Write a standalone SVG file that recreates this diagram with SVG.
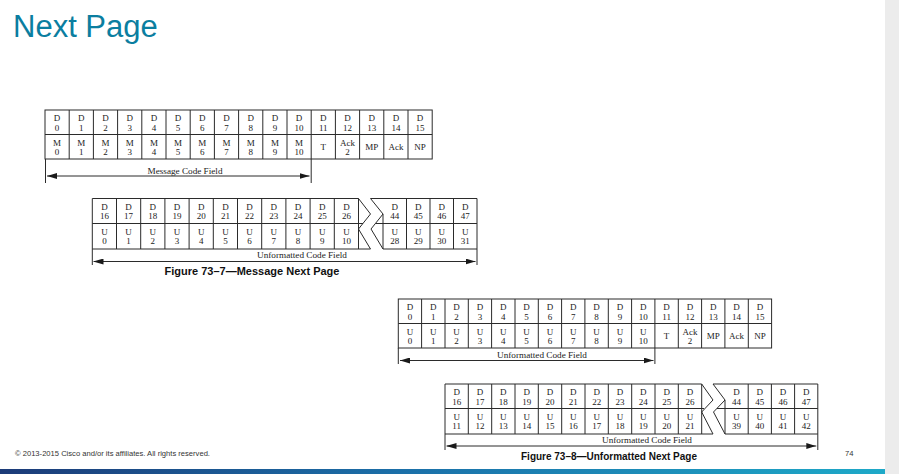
<svg xmlns="http://www.w3.org/2000/svg" width="899" height="474" viewBox="0 0 899 474">
<style>
.cell{font-family:"Liberation Serif","Times New Roman",serif;font-size:9px;fill:#222;text-anchor:middle}
.lbl{font-family:"Liberation Serif","Times New Roman",serif;font-size:9.2px;fill:#222;text-anchor:middle}
.ln{stroke:#2b2b2b;stroke-width:1;fill:none}
.cap{font-family:"Liberation Sans",Arial,sans-serif;font-weight:bold;font-size:11px;fill:#111;text-anchor:middle}
.dim{stroke:#2b2b2b;stroke-width:1;fill:none}
.arr{stroke:#2b2b2b;stroke-width:1;fill:none;marker-start:url(#ah);marker-end:url(#ah)}
.foot{font-family:"Liberation Sans",Arial,sans-serif;font-size:7.6px;fill:#333}
</style>
<defs>
<marker id="ah" viewBox="0 0 10 6" refX="10" refY="3" markerWidth="10" markerHeight="6" markerUnits="userSpaceOnUse" orient="auto-start-reverse">
<path d="M0,0 L10,3 L0,6 z" fill="#1a1a1a"/>
</marker>
<linearGradient id="band" x1="0" y1="0" x2="1" y2="0">
<stop offset="0" stop-color="#1c3b78"/>
<stop offset="0.45" stop-color="#1b6fa8"/>
<stop offset="1" stop-color="#1ea9c8"/>
</linearGradient>
</defs>
<rect width="899" height="474" fill="#ffffff"/>
<rect x="885" y="0" width="14" height="474" fill="#ececec"/>
<rect x="0" y="469" width="885" height="5" fill="url(#band)"/>

<text x="13" y="37" font-family="Liberation Sans, Arial, sans-serif" font-size="31" fill="#0b7ea0">Next Page</text>

<g id="table1">
<rect class="ln" x="45" y="110" width="387.2" height="49"/>
<path class="ln" d="M45 134.5H432.2 M69.2 110V159 M93.4 110V159 M117.6 110V159 M141.8 110V159 M166 110V159 M190.2 110V159 M214.4 110V159 M238.6 110V159 M262.8 110V159 M287 110V159 M311.2 110V159 M335.4 110V159 M359.6 110V159 M383.8 110V159 M408 110V159"/>
<text class="cell" x="57.1" y="121">D<tspan x="57.1" dy="9.5">0</tspan></text>
<text class="cell" x="81.3" y="121">D<tspan x="81.3" dy="9.5">1</tspan></text>
<text class="cell" x="105.5" y="121">D<tspan x="105.5" dy="9.5">2</tspan></text>
<text class="cell" x="129.7" y="121">D<tspan x="129.7" dy="9.5">3</tspan></text>
<text class="cell" x="153.9" y="121">D<tspan x="153.9" dy="9.5">4</tspan></text>
<text class="cell" x="178.1" y="121">D<tspan x="178.1" dy="9.5">5</tspan></text>
<text class="cell" x="202.3" y="121">D<tspan x="202.3" dy="9.5">6</tspan></text>
<text class="cell" x="226.5" y="121">D<tspan x="226.5" dy="9.5">7</tspan></text>
<text class="cell" x="250.7" y="121">D<tspan x="250.7" dy="9.5">8</tspan></text>
<text class="cell" x="274.9" y="121">D<tspan x="274.9" dy="9.5">9</tspan></text>
<text class="cell" x="299.1" y="121">D<tspan x="299.1" dy="9.5">10</tspan></text>
<text class="cell" x="323.3" y="121">D<tspan x="323.3" dy="9.5">11</tspan></text>
<text class="cell" x="347.5" y="121">D<tspan x="347.5" dy="9.5">12</tspan></text>
<text class="cell" x="371.7" y="121">D<tspan x="371.7" dy="9.5">13</tspan></text>
<text class="cell" x="395.9" y="121">D<tspan x="395.9" dy="9.5">14</tspan></text>
<text class="cell" x="420.1" y="121">D<tspan x="420.1" dy="9.5">15</tspan></text>
<text class="cell" x="57.1" y="145.5">M<tspan x="57.1" dy="9.5">0</tspan></text>
<text class="cell" x="81.3" y="145.5">M<tspan x="81.3" dy="9.5">1</tspan></text>
<text class="cell" x="105.5" y="145.5">M<tspan x="105.5" dy="9.5">2</tspan></text>
<text class="cell" x="129.7" y="145.5">M<tspan x="129.7" dy="9.5">3</tspan></text>
<text class="cell" x="153.9" y="145.5">M<tspan x="153.9" dy="9.5">4</tspan></text>
<text class="cell" x="178.1" y="145.5">M<tspan x="178.1" dy="9.5">5</tspan></text>
<text class="cell" x="202.3" y="145.5">M<tspan x="202.3" dy="9.5">6</tspan></text>
<text class="cell" x="226.5" y="145.5">M<tspan x="226.5" dy="9.5">7</tspan></text>
<text class="cell" x="250.7" y="145.5">M<tspan x="250.7" dy="9.5">8</tspan></text>
<text class="cell" x="274.9" y="145.5">M<tspan x="274.9" dy="9.5">9</tspan></text>
<text class="cell" x="299.1" y="145.5">M<tspan x="299.1" dy="9.5">10</tspan></text>
<text class="cell" x="323.3" y="149.5">T</text>
<text class="cell" x="347.5" y="145.5">Ack<tspan x="347.5" dy="9.5">2</tspan></text>
<text class="cell" x="371.7" y="149.5">MP</text>
<text class="cell" x="395.9" y="149.5">Ack</text>
<text class="cell" x="420.1" y="149.5">NP</text>
</g>

<g id="table2">
<path class="ln" d="M358.5 198.5H92.3V249H370.5 M92.3 223.5H363 M116.5 198.5V249 M140.7 198.5V249 M164.9 198.5V249 M189.1 198.5V249 M213.3 198.5V249 M237.5 198.5V249 M261.7 198.5V249 M285.9 198.5V249 M310.1 198.5V249 M334.3 198.5V249 M358.5 198.5V249"/>
<path class="ln" d="M358.5 198.5L370.5 214L358.5 229L370.5 249"/>
<path class="ln" d="M370.5 198.5L383 214L371 229L383 249"/>
<path class="ln" d="M370.5 198.5H477V249H383 M376 223.5H477 M383 214V249 M406.5 198.5V249 M430 198.5V249 M453.5 198.5V249"/>
<text class="cell" x="104.4" y="209.5">D<tspan x="104.4" dy="9.5">16</tspan></text>
<text class="cell" x="128.6" y="209.5">D<tspan x="128.6" dy="9.5">17</tspan></text>
<text class="cell" x="152.8" y="209.5">D<tspan x="152.8" dy="9.5">18</tspan></text>
<text class="cell" x="177" y="209.5">D<tspan x="177" dy="9.5">19</tspan></text>
<text class="cell" x="201.2" y="209.5">D<tspan x="201.2" dy="9.5">20</tspan></text>
<text class="cell" x="225.4" y="209.5">D<tspan x="225.4" dy="9.5">21</tspan></text>
<text class="cell" x="249.6" y="209.5">D<tspan x="249.6" dy="9.5">22</tspan></text>
<text class="cell" x="273.8" y="209.5">D<tspan x="273.8" dy="9.5">23</tspan></text>
<text class="cell" x="298" y="209.5">D<tspan x="298" dy="9.5">24</tspan></text>
<text class="cell" x="322.2" y="209.5">D<tspan x="322.2" dy="9.5">25</tspan></text>
<text class="cell" x="346.4" y="209.5">D<tspan x="346.4" dy="9.5">26</tspan></text>
<text class="cell" x="394.75" y="209.5">D<tspan x="394.75" dy="9.5">44</tspan></text>
<text class="cell" x="418.25" y="209.5">D<tspan x="418.25" dy="9.5">45</tspan></text>
<text class="cell" x="441.75" y="209.5">D<tspan x="441.75" dy="9.5">46</tspan></text>
<text class="cell" x="465.25" y="209.5">D<tspan x="465.25" dy="9.5">47</tspan></text>
<text class="cell" x="104.4" y="234.5">U<tspan x="104.4" dy="9.5">0</tspan></text>
<text class="cell" x="128.6" y="234.5">U<tspan x="128.6" dy="9.5">1</tspan></text>
<text class="cell" x="152.8" y="234.5">U<tspan x="152.8" dy="9.5">2</tspan></text>
<text class="cell" x="177" y="234.5">U<tspan x="177" dy="9.5">3</tspan></text>
<text class="cell" x="201.2" y="234.5">U<tspan x="201.2" dy="9.5">4</tspan></text>
<text class="cell" x="225.4" y="234.5">U<tspan x="225.4" dy="9.5">5</tspan></text>
<text class="cell" x="249.6" y="234.5">U<tspan x="249.6" dy="9.5">6</tspan></text>
<text class="cell" x="273.8" y="234.5">U<tspan x="273.8" dy="9.5">7</tspan></text>
<text class="cell" x="298" y="234.5">U<tspan x="298" dy="9.5">8</tspan></text>
<text class="cell" x="322.2" y="234.5">U<tspan x="322.2" dy="9.5">9</tspan></text>
<text class="cell" x="346.4" y="234.5">U<tspan x="346.4" dy="9.5">10</tspan></text>
<text class="cell" x="394.75" y="234.5">U<tspan x="394.75" dy="9.5">28</tspan></text>
<text class="cell" x="418.25" y="234.5">U<tspan x="418.25" dy="9.5">29</tspan></text>
<text class="cell" x="441.75" y="234.5">U<tspan x="441.75" dy="9.5">30</tspan></text>
<text class="cell" x="465.25" y="234.5">U<tspan x="465.25" dy="9.5">31</tspan></text>
</g>

<g id="table3">
<rect class="ln" x="398.3" y="299" width="373.3" height="49"/>
<path class="ln" d="M398.3 323.5H771.6 M421.6 299V348 M445 299V348 M468.3 299V348 M491.6 299V348 M515 299V348 M538.3 299V348 M561.6 299V348 M584.9 299V348 M608.3 299V348 M631.6 299V348 M654.9 299V348 M678.3 299V348 M701.6 299V348 M724.9 299V348 M748.3 299V348"/>
<text class="cell" x="410" y="310">D<tspan x="410" dy="9.5">0</tspan></text>
<text class="cell" x="433.3" y="310">D<tspan x="433.3" dy="9.5">1</tspan></text>
<text class="cell" x="456.6" y="310">D<tspan x="456.6" dy="9.5">2</tspan></text>
<text class="cell" x="480" y="310">D<tspan x="480" dy="9.5">3</tspan></text>
<text class="cell" x="503.3" y="310">D<tspan x="503.3" dy="9.5">4</tspan></text>
<text class="cell" x="526.6" y="310">D<tspan x="526.6" dy="9.5">5</tspan></text>
<text class="cell" x="550" y="310">D<tspan x="550" dy="9.5">6</tspan></text>
<text class="cell" x="573.3" y="310">D<tspan x="573.3" dy="9.5">7</tspan></text>
<text class="cell" x="596.6" y="310">D<tspan x="596.6" dy="9.5">8</tspan></text>
<text class="cell" x="619.9" y="310">D<tspan x="619.9" dy="9.5">9</tspan></text>
<text class="cell" x="643.3" y="310">D<tspan x="643.3" dy="9.5">10</tspan></text>
<text class="cell" x="666.6" y="310">D<tspan x="666.6" dy="9.5">11</tspan></text>
<text class="cell" x="689.9" y="310">D<tspan x="689.9" dy="9.5">12</tspan></text>
<text class="cell" x="713.3" y="310">D<tspan x="713.3" dy="9.5">13</tspan></text>
<text class="cell" x="736.6" y="310">D<tspan x="736.6" dy="9.5">14</tspan></text>
<text class="cell" x="759.9" y="310">D<tspan x="759.9" dy="9.5">15</tspan></text>
<text class="cell" x="410" y="334.5">U<tspan x="410" dy="9.5">0</tspan></text>
<text class="cell" x="433.3" y="334.5">U<tspan x="433.3" dy="9.5">1</tspan></text>
<text class="cell" x="456.6" y="334.5">U<tspan x="456.6" dy="9.5">2</tspan></text>
<text class="cell" x="480" y="334.5">U<tspan x="480" dy="9.5">3</tspan></text>
<text class="cell" x="503.3" y="334.5">U<tspan x="503.3" dy="9.5">4</tspan></text>
<text class="cell" x="526.6" y="334.5">U<tspan x="526.6" dy="9.5">5</tspan></text>
<text class="cell" x="550" y="334.5">U<tspan x="550" dy="9.5">6</tspan></text>
<text class="cell" x="573.3" y="334.5">U<tspan x="573.3" dy="9.5">7</tspan></text>
<text class="cell" x="596.6" y="334.5">U<tspan x="596.6" dy="9.5">8</tspan></text>
<text class="cell" x="619.9" y="334.5">U<tspan x="619.9" dy="9.5">9</tspan></text>
<text class="cell" x="643.3" y="334.5">U<tspan x="643.3" dy="9.5">10</tspan></text>
<text class="cell" x="666.6" y="338.5">T</text>
<text class="cell" x="689.9" y="334.5">Ack<tspan x="689.9" dy="9.5">2</tspan></text>
<text class="cell" x="713.3" y="338.5">MP</text>
<text class="cell" x="736.6" y="338.5">Ack</text>
<text class="cell" x="759.9" y="338.5">NP</text>
</g>

<g id="table4">
<path class="ln" d="M701.7 384H445V434H713 M445 408.5H704 M468.3 384V434 M491.7 384V434 M515 384V434 M538.3 384V434 M561.7 384V434 M585 384V434 M608.3 384V434 M631.7 384V434 M655 384V434 M678.3 384V434 M701.7 384V434"/>
<path class="ln" d="M701.7 384L713 400L701.7 412L713 434"/>
<path class="ln" d="M713 384L725 400L713.5 412L725 434"/>
<path class="ln" d="M713 384H817.8V434H725 M717 408.5H817.8 M725 400V434 M748.2 384V434 M771.4 384V434 M794.6 384V434"/>
<text class="cell" x="456.7" y="395">D<tspan x="456.7" dy="9.5">16</tspan></text>
<text class="cell" x="480" y="395">D<tspan x="480" dy="9.5">17</tspan></text>
<text class="cell" x="503.3" y="395">D<tspan x="503.3" dy="9.5">18</tspan></text>
<text class="cell" x="526.7" y="395">D<tspan x="526.7" dy="9.5">19</tspan></text>
<text class="cell" x="550" y="395">D<tspan x="550" dy="9.5">20</tspan></text>
<text class="cell" x="573.3" y="395">D<tspan x="573.3" dy="9.5">21</tspan></text>
<text class="cell" x="596.7" y="395">D<tspan x="596.7" dy="9.5">22</tspan></text>
<text class="cell" x="620" y="395">D<tspan x="620" dy="9.5">23</tspan></text>
<text class="cell" x="643.3" y="395">D<tspan x="643.3" dy="9.5">24</tspan></text>
<text class="cell" x="666.7" y="395">D<tspan x="666.7" dy="9.5">25</tspan></text>
<text class="cell" x="690" y="395">D<tspan x="690" dy="9.5">26</tspan></text>
<text class="cell" x="736.6" y="395">D<tspan x="736.6" dy="9.5">44</tspan></text>
<text class="cell" x="759.8" y="395">D<tspan x="759.8" dy="9.5">45</tspan></text>
<text class="cell" x="783" y="395">D<tspan x="783" dy="9.5">46</tspan></text>
<text class="cell" x="806.2" y="395">D<tspan x="806.2" dy="9.5">47</tspan></text>
<text class="cell" x="456.7" y="419.5">U<tspan x="456.7" dy="9.5">11</tspan></text>
<text class="cell" x="480" y="419.5">U<tspan x="480" dy="9.5">12</tspan></text>
<text class="cell" x="503.3" y="419.5">U<tspan x="503.3" dy="9.5">13</tspan></text>
<text class="cell" x="526.7" y="419.5">U<tspan x="526.7" dy="9.5">14</tspan></text>
<text class="cell" x="550" y="419.5">U<tspan x="550" dy="9.5">15</tspan></text>
<text class="cell" x="573.3" y="419.5">U<tspan x="573.3" dy="9.5">16</tspan></text>
<text class="cell" x="596.7" y="419.5">U<tspan x="596.7" dy="9.5">17</tspan></text>
<text class="cell" x="620" y="419.5">U<tspan x="620" dy="9.5">18</tspan></text>
<text class="cell" x="643.3" y="419.5">U<tspan x="643.3" dy="9.5">19</tspan></text>
<text class="cell" x="666.7" y="419.5">U<tspan x="666.7" dy="9.5">20</tspan></text>
<text class="cell" x="690" y="419.5">U<tspan x="690" dy="9.5">21</tspan></text>
<text class="cell" x="736.6" y="419.5">U<tspan x="736.6" dy="9.5">39</tspan></text>
<text class="cell" x="759.8" y="419.5">U<tspan x="759.8" dy="9.5">40</tspan></text>
<text class="cell" x="783" y="419.5">U<tspan x="783" dy="9.5">41</tspan></text>
<text class="cell" x="806.2" y="419.5">U<tspan x="806.2" dy="9.5">42</tspan></text>
</g>

<g id="connectors">
<path class="dim" d="M45.5 159V183 M311.2 159V183"/>
<line class="arr" x1="47" y1="176" x2="309.5" y2="176"/>
<path class="dim" d="M92.3 249V265 M477 249V265"/>
<line class="arr" x1="93.5" y1="261.5" x2="475.5" y2="261.5"/>
<path class="dim" d="M398.3 348V364 M654.9 348V364"/>
<line class="arr" x1="400" y1="360.5" x2="653.5" y2="360.5"/>
<path class="dim" d="M445 434V450 M817.8 434V450"/>
<line class="arr" x1="446.5" y1="446" x2="816.3" y2="446"/>
</g>

<g id="labels">
<text class="lbl" x="185" y="173.5">Message Code Field</text>
<text class="lbl" x="302" y="257.5">Unformatted Code Field</text>
<text class="lbl" x="542" y="357.5">Unformatted Code Field</text>
<text class="lbl" x="647" y="442.5">Unformatted Code Field</text>
<text class="cap" x="252" y="275">Figure 73–7—Message Next Page</text>
<text class="cap" x="609" y="459.5" textLength="176" lengthAdjust="spacingAndGlyphs">Figure 73–8—Unformatted Next Page</text>
</g>

<text class="foot" x="15" y="456">© 2013-2015  Cisco and/or its affiliates. All rights reserved.</text>
<text class="foot" x="845" y="455.5">74</text>
</svg>
